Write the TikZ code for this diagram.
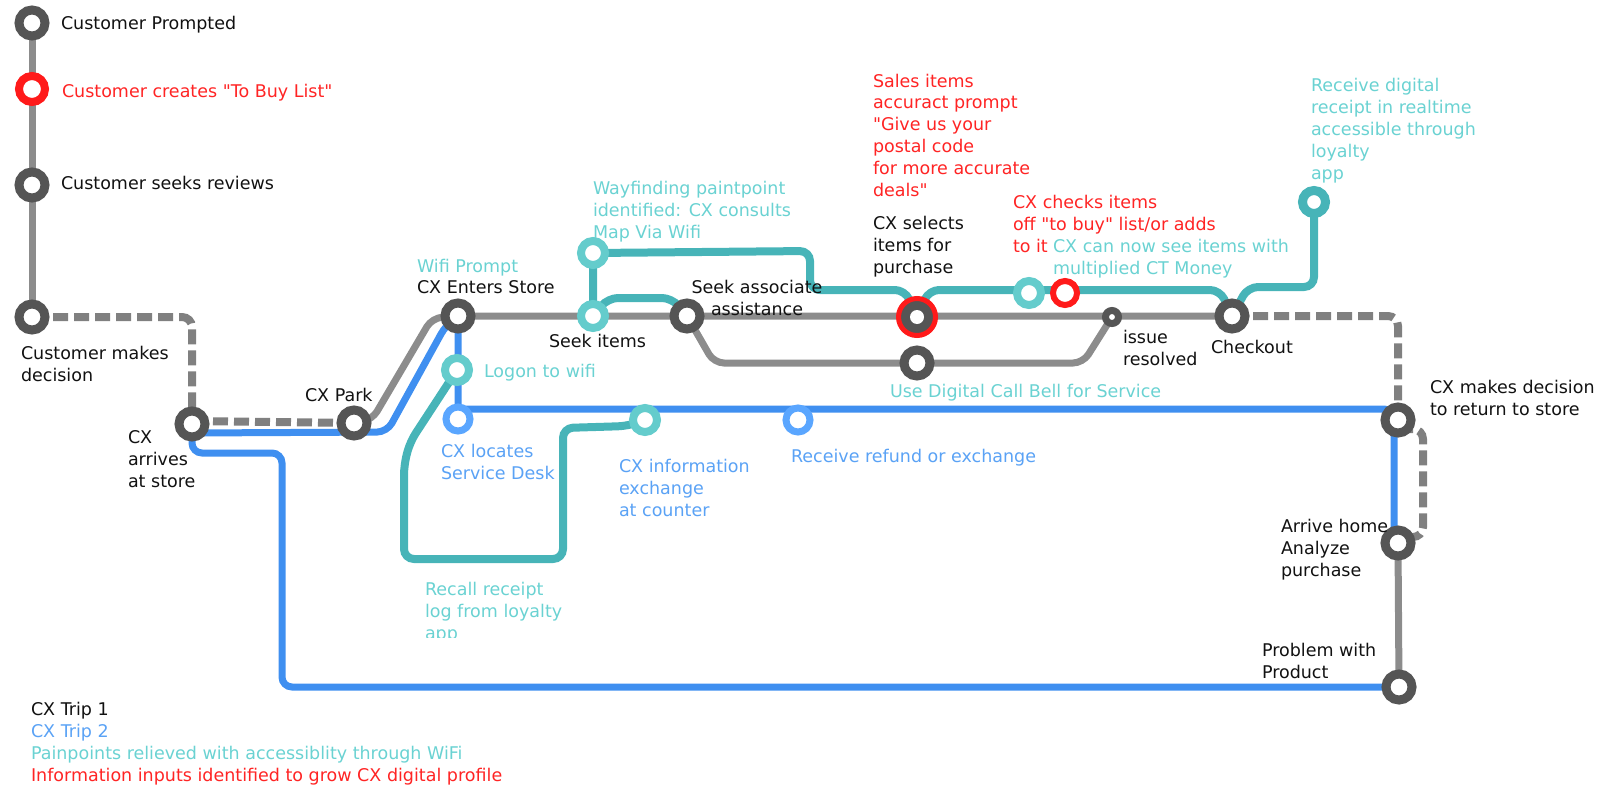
\documentclass[tikz,border=0pt]{standalone}
\usepackage{fontspec}
\setmainfont[Ligatures=TeXOff]{DejaVu Sans}
\usetikzlibrary{calc}
\pgfdeclarelayer{bg}
\pgfsetlayers{bg,main}
\definecolor{stgray}{HTML}{555555}
\definecolor{lngray}{HTML}{8C8C8C}
\definecolor{dshgray}{HTML}{808080}
\definecolor{lnblue}{HTML}{3F8FF0}
\definecolor{stblue}{HTML}{5AA6FF}
\definecolor{txblue}{HTML}{5AA2F5}
\definecolor{lnteal}{HTML}{47B4B8}
\definecolor{stteal}{HTML}{64CCCC}
\definecolor{txteal}{HTML}{6AD2D2}
\definecolor{cred}{HTML}{FF1A1A}
\definecolor{txred}{HTML}{FF2424}
\definecolor{txblack}{HTML}{111111}
\begin{document}
\begin{tikzpicture}[x=1pt,y=-1pt,
  every node/.style={inner sep=0pt, outer sep=0pt},
  lbl/.style={anchor=base west, align=left, font=\fontsize{17.5}{21.8}\selectfont, text=txblack},
  gst/.style={circle, draw=stgray, line width=9pt, fill=white, minimum size=26pt},
  tst/.style={circle, draw=stteal, line width=8pt, fill=white, minimum size=24pt},
  bst/.style={circle, draw=stblue, line width=7pt, fill=white, minimum size=24pt},
  rst/.style={circle, draw=cred, line width=8pt, fill=white, minimum size=26pt},
  gline/.style={draw=lngray, line width=7pt, rounded corners=10pt},
  dline/.style={draw=dshgray, line width=8pt, dash pattern=on 15pt off 6pt, rounded corners=10pt},
  bline/.style={draw=lnblue, line width=7pt, rounded corners=10pt},
  tline/.style={draw=lnteal, line width=8pt, rounded corners=10pt}
]
\useasboundingbox (0,0) rectangle (1608,787);

% stations
\node[gst] (prompted) at (32,23) {};
\node[rst] (creates) at (32,89) {};
\node[gst] (reviews) at (32,185) {};
\node[gst] (decision) at (32,317) {};
\node[gst] (arrives) at (192,424) {};
\node[gst] (park) at (354,423) {};
\node[gst] (enters) at (458,316) {};
\node[tst] (logon) at (457,370) {};
\node[bst] (locates) at (458,419) {};
\node[tst] (infoex) at (645,420) {};
\node[bst] (refund) at (798,420) {};
\node[gst] (returndec) at (1398,420) {};
\node[gst] (arrivehome) at (1398,543) {};
\node[gst] (problem) at (1399,687) {};
\node[tst] (seekitems) at (593,316) {};
\node[tst] (wayfinding) at (593,253) {};
\node[gst] (assoc) at (687,316) {};
\node[circle, draw=cred, line width=5pt, fill=stgray, minimum size=37pt] (selring) at (917,317) {};
\node[circle, fill=white, minimum size=14pt] (selects) at (917,317) {};
\node[gst] (bell) at (917,363) {};
\node[circle, draw=stgray, line width=7pt, fill=white, minimum size=13pt] (issue) at (1112,317) {};
\node[tst] (tealc) at (1029,293) {};
\node[circle, draw=cred, line width=6pt, fill=white, minimum size=24pt] (redc) at (1065,293) {};
\node[gst] (checkout) at (1232,316) {};
\node[circle, draw=lnteal, line width=9pt, fill=white, minimum size=23pt] (receipt) at (1314,202) {};

% lines
\begin{pgfonlayer}{bg}
\draw[gline] (prompted.center) -- (decision.center);
\draw[gline] (park.center) -- (372,420) -- (432,318) -- (enters.center) -- (checkout.center);
\draw[gline] (assoc.center) -- (714,363) -- (1083,363) -- (issue.center);
\draw[gline] (arrivehome.center) -- (problem.center);
\draw[dline] (decision.center) -| (arrives.center);
\draw[dline] ($(arrives.center)+(0,-3)$) -- (park.center);
\draw[dline] (checkout.center) -| (returndec.center);
\draw[dline] ($(returndec.center)+(0,9)$) -- ($(returndec.center)+(25,9)$) -- ($(arrivehome.center)+(25,-6)$) -- ($(arrivehome.center)+(0,-6)$);
\draw[bline] (problem.center) -| (282,453) -| (arrives.center);
\draw[bline] ($(arrives.center)+(0,9)$) -- (387,432) -- (446,325) -- (enters.center) -- (locates.center);
\draw[bline] ($(locates.center)+(0,-10)$) -- ($(returndec.center)+(-4,-11)$) -- ($(arrivehome.center)+(-4,0)$);
\draw[tline] (logon.center) -- (410,442) -- (404,465) -- (404,559) -- (563,559) -- (563,428) -- (628,426) -- (infoex.center);
\draw[tline] (seekitems.center) -- (wayfinding.center) -- (810,251) -- (810,290) -- (905,290) -- (selects.center) -- (929,290) -- (1220,290) -- (checkout.center);
\draw[tline] (checkout.center) -- (1248,287) -- (1314,287) -- (receipt.center);
\draw[tline] (seekitems.center) -- (608,298) -- (672,298) -- (assoc.center);
\end{pgfonlayer}

% labels (base = baseline of the last line)
\node[lbl] (lprompted) at (61,29) {Customer Prompted};
\node[lbl, text=txred] (lcreates) at (62,97) {Customer creates "To Buy List"};
\node[lbl] (lreviews) at (61,189) {Customer seeks reviews};
\node[lbl] (ldecision) at (21,381) {Customer makes\\decision};
\node[lbl] (larrives) at (128,487) {CX\\arrives\\at store};
\node[lbl] (lpark) at (305,401) {CX Park};
\node[lbl, text=txteal] (lwifi) at (417,272) {Wifi Prompt};
\node[lbl] (lenters) at (417,293) {CX Enters Store};
\node[lbl, text=txteal] (lway) at (593,238) {Wayfinding paintpoint\\identified: CX consults\\Map Via Wifi};
\node[lbl] (lseek) at (549,347) {Seek items};
\node[lbl, align=center, anchor=base] (lassoc) at (757,315) {Seek associate\\assistance};
\node[lbl, text=txteal] (llogon) at (484,377) {Logon to wifi};
\node[lbl, text=txred] (lsales) at (873,196) {Sales items\\accuract prompt\\"Give us your\\postal code\\for more accurate\\deals"};
\node[lbl] (lselects) at (873,273) {CX selects\\items for\\purchase};
\node[lbl, text=txred] (lchecks) at (1013,252) {CX checks items\\off "to buy" list/or adds\\to it};
\node[lbl, text=txteal] (lcansee) at (1053,274) {CX can now see items with\\multiplied CT Money};
\node[lbl] (lissue) at (1123,365) {issue\\resolved};
\node[lbl] (lcheckout) at (1211,353) {Checkout};
\node[lbl, text=txteal] (lbell) at (890,397) {Use Digital Call Bell for Service};
\node[lbl, text=txteal] (lreceipt) at (1311,179) {Receive digital\\receipt in realtime\\accessible through\\loyalty\\app};
\node[lbl] (lreturn) at (1430,415) {CX makes decision\\to return to store};
\node[lbl, text=txblue] (llocates) at (441,479) {CX locates\\Service Desk};
\node[lbl, text=txblue] (linfo) at (619,516) {CX information\\exchange\\at counter};
\node[lbl, text=txblue] (lrefund) at (791,462) {Receive refund or exchange};
\begin{scope}
\clip (380,570) rectangle (640,637);
\node[lbl, text=txteal] (lrecall) at (425,639) {Recall receipt\\log from loyalty\\app};
\end{scope}
\node[lbl] (lhome) at (1281,576) {Arrive home\\Analyze\\purchase};
\node[lbl] (lproblem) at (1262,678) {Problem with\\Product};
\node[lbl] (leg1) at (31,715) {CX Trip 1};
\node[lbl, text=txblue] (leg2) at (31,737) {CX Trip 2};
\node[lbl, text=txteal] (leg3) at (31,759) {Painpoints relieved with accessiblity through WiFi};
\node[lbl, text=txred] (leg4) at (31,781) {Information inputs identified to grow CX digital profile};
\end{tikzpicture}
\end{document}
